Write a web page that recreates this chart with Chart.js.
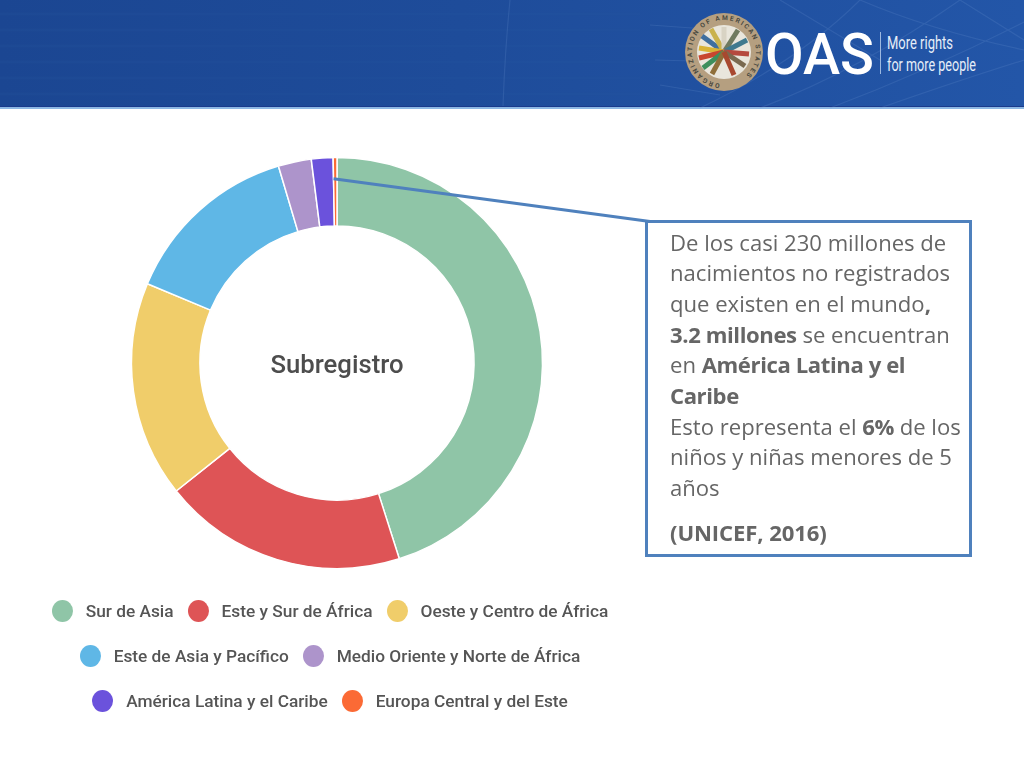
<!DOCTYPE html>
<html lang="es"><head><meta charset="utf-8">
<style>
html,body{margin:0;padding:0;background:#fff;width:1024px;height:768px;overflow:hidden}
#chart{position:absolute;left:0;top:0;width:1024px;height:768px}
#hdr{position:absolute;left:0;top:0;width:1024px;height:109px}
#center{position:absolute;left:187px;width:300px;top:348px;text-align:center;font:500 25.7px/32px Roboto,sans-serif;color:#4d4d4d}
#box{position:absolute;left:645px;top:220px;width:321px;height:331px;border:3px solid #4f81bd;background:#fff;box-sizing:content-box}
#txt{position:absolute;left:670px;top:226.5px;font:22.1px/30.7px "Open Sans",sans-serif;color:#666;white-space:nowrap}
#txt b{font-weight:700;letter-spacing:-.4px}
#txt .src{display:block;margin-top:14.5px}
#txt .src b{letter-spacing:-.1px}
.row{position:absolute;left:0;width:660px;display:flex;justify-content:center;align-items:center;height:24px;font:500 17.3px/24px Roboto,sans-serif;color:#555;white-space:nowrap}
.it{display:flex;align-items:center;margin:0 7px}
.dot{width:21px;height:22px;border-radius:50%;margin-right:13px;flex:none}
</style></head><body>
<svg id="hdr" viewBox="0 0 1024 109" xmlns="http://www.w3.org/2000/svg">
<defs>
<linearGradient id="g" x1="0" x2="1" y1="0" y2="0"><stop offset="0" stop-color="#1b4692"/><stop offset=".45" stop-color="#1e4c9a"/><stop offset="1" stop-color="#2356a8"/></linearGradient>
<path id="ring" d="M724 84a32 32 0 1 1 .01 0"/>
</defs>
<rect width="1024" height="106" fill="url(#g)"/>
<rect y="106" width="1024" height="1" fill="#1a3a8c"/><rect y="107" width="1024" height="2" fill="#8db8e4"/>
<g stroke="#2a5aa6" stroke-opacity=".14" stroke-width="3">
<path d="M0 14H640M0 30H640M0 46H640M0 62H640M0 78H640M0 94H640"/>
</g>
<g stroke="#6f97d3" stroke-opacity=".2" fill="none" stroke-width="1.2">
<path d="M510 0Q505 50 503 106M700 108Q800 60 860 0M760 108Q860 70 960 0M830 108Q930 70 1024 22M880 108Q960 80 1024 60M780 0Q830 30 880 60M860 0Q930 30 1024 50M650 25L720 30M655 60L730 62M660 85L720 95M960 0L1024 40"/>
</g>
<circle cx="724" cy="52" r="39" fill="#b59f80"/>
<circle cx="724" cy="52" r="27" fill="#e9e6dc"/>
<g stroke-width="5" fill="none">
<path d="M724 52L702 36" stroke="#3f6f9f"/><path d="M724 52L711 29" stroke="#c9b24d"/><path d="M724 52L724 27" stroke="#d8d3c4"/>
<path d="M724 52L738 30" stroke="#6f7a5f"/><path d="M724 52L747 40" stroke="#3f7a8f"/><path d="M724 52L699 48" stroke="#d9b437"/>
<path d="M724 52L699 58" stroke="#c8452f"/><path d="M724 52L703 68" stroke="#3d8f5c"/><path d="M724 52L749 54" stroke="#b5493e"/>
<path d="M724 52L745 66" stroke="#7a6a50"/><path d="M724 52L712 74" stroke="#8f6f3a"/><path d="M724 52L734 75" stroke="#a8482f"/>
</g>
<text font-family="Roboto,sans-serif" font-weight="700" font-size="6.6" fill="#4a4a40"><textPath href="#ring" startOffset="2%" textLength="172" lengthAdjust="spacing">ORGANIZATION OF AMERICAN STATES</textPath></text>
<text x="765" y="74" font-family="Roboto,sans-serif" font-weight="500" font-size="57" fill="#fff" textLength="109" lengthAdjust="spacingAndGlyphs">OAS</text>
<rect x="880" y="32" width="1" height="42" fill="#9db9e0"/>
<text x="887" y="49" font-family="Roboto,sans-serif" font-size="19" fill="#e6eef8" textLength="66" lengthAdjust="spacingAndGlyphs">More rights</text>
<text x="887" y="71" font-family="Roboto,sans-serif" font-size="19" fill="#e6eef8" textLength="89" lengthAdjust="spacingAndGlyphs">for more people</text>
</svg>
<div id="box"></div>
<canvas id="chart" width="1024" height="768"></canvas>
<div id="center">Subregistro</div>
<div id="txt">De los casi 230 millones de<br>nacimientos no registrados<br>que existen en el mundo<b>,</b><br><b>3.2 millones</b> se encuentran<br>en <b>América Latina y el</b><br><b>Caribe</b><br>Esto representa el <b>6%</b> de los<br>niños y niñas menores de 5<br>años<span class="src"><b>(UNICEF, 2016)</b></span></div>
<div id="legend"></div>
<script src="https://cdn.jsdelivr.net/npm/chart.js@4"></script>
<script>
const categories = ["Sur de Asia","Este y Sur de África","Oeste y Centro de África","Este de Asia y Pacífico","Medio Oriente y Norte de África","América Latina y el Caribe","Europa Central y del Este"];
const shares = [45.1,19.2,17.0,14.1,2.6,1.7,0.3];
const colors = ["#8fc5a7","#de5456","#f0cd6a","#5fb7e6","#ad94cb","#6b52dc","#fb6a35"];
const legendRows = [3,2,2];
const rowCentres = [611,656,701];

const leader = {
  id:'leader',
  afterDatasetsDraw(chart){
    const arc = chart.getDatasetMeta(0).data[5];
    const r = arc.innerRadius + (arc.outerRadius-arc.innerRadius)*0.69;
    const x = arc.x + Math.cos(arc.endAngle)*r, y = arc.y + Math.sin(arc.endAngle)*r;
    const c = chart.ctx; c.save();
    c.strokeStyle='#4f81bd'; c.lineWidth=3; c.beginPath();
    c.moveTo(x,y); c.lineTo(650,221.5); c.stroke(); c.restore();
  }
};
new Chart(document.getElementById('chart'),{
  type:'doughnut',
  data:{labels:categories,datasets:[{data:shares,backgroundColor:colors,borderColor:'#fff',borderWidth:1.5}]},
  options:{responsive:false,animation:false,radius:205.5,cutout:'66.7%',
    layout:{padding:{right:350,bottom:42}},
    plugins:{legend:{display:false},tooltip:{enabled:false}}},
  plugins:[leader]
});
let i=0; const host=document.getElementById('legend');
legendRows.forEach((n,k)=>{
  const row=document.createElement('div'); row.className='row'; row.style.top=(rowCentres[k]-12)+'px';
  for(let j=0;j<n;j++,i++){
    const it=document.createElement('div'); it.className='it';
    const d=document.createElement('span'); d.className='dot'; d.style.background=colors[i];
    const t=document.createElement('span'); t.textContent=categories[i];
    it.append(d,t); row.append(it);
  }
  host.append(row);
});
</script>
</body></html>
